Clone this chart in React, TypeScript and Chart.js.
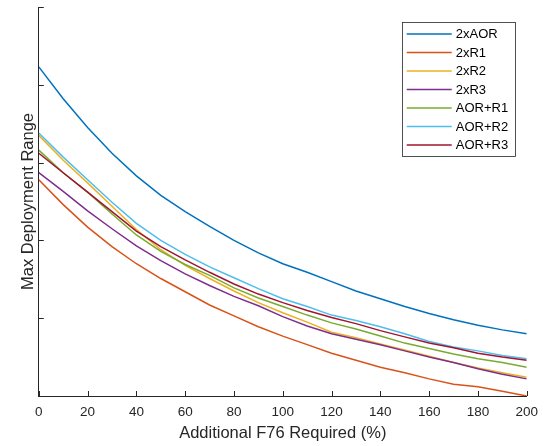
import React, { useEffect, useRef } from "react";
import { Chart, registerables } from "chart.js";

Chart.register(...registerables);

const xValues = [0, 10, 20, 30, 40, 50, 60, 70, 80, 90, 100, 110, 120, 130, 140, 150, 160, 170, 180, 190, 200];
const xTicks = [0, 20, 40, 60, 80, 100, 120, 140, 160, 180, 200];

const s2xAOR = [4.23, 3.82, 3.45, 3.12, 2.83, 2.58, 2.37, 2.18, 2.0, 1.84, 1.7, 1.59, 1.47, 1.35, 1.25, 1.15, 1.06, 0.98, 0.91, 0.85, 0.8];
const s2xR1 = [2.78, 2.46, 2.17, 1.92, 1.7, 1.51, 1.34, 1.17, 1.03, 0.89, 0.77, 0.66, 0.55, 0.46, 0.37, 0.3, 0.22, 0.15, 0.12, 0.06, 0.0];
const s2xR2 = [3.35, 3.03, 2.74, 2.44, 2.14, 1.88, 1.68, 1.51, 1.35, 1.2, 1.07, 0.95, 0.82, 0.75, 0.67, 0.59, 0.51, 0.43, 0.36, 0.3, 0.24];
const s2xR3 = [2.87, 2.63, 2.38, 2.15, 1.93, 1.74, 1.57, 1.42, 1.28, 1.16, 1.02, 0.9, 0.8, 0.73, 0.66, 0.58, 0.5, 0.43, 0.35, 0.28, 0.22];
const sAORR1 = [3.16, 2.87, 2.62, 2.34, 2.07, 1.86, 1.69, 1.55, 1.39, 1.26, 1.15, 1.04, 0.94, 0.86, 0.77, 0.68, 0.61, 0.54, 0.48, 0.43, 0.37];
const sAORR2 = [3.38, 3.07, 2.78, 2.49, 2.22, 2.0, 1.82, 1.66, 1.52, 1.38, 1.25, 1.15, 1.04, 0.97, 0.89, 0.8, 0.7, 0.63, 0.58, 0.52, 0.48];
const sAORR3 = [3.12, 2.87, 2.62, 2.37, 2.12, 1.92, 1.75, 1.59, 1.44, 1.31, 1.2, 1.1, 1.01, 0.93, 0.84, 0.76, 0.68, 0.62, 0.55, 0.5, 0.46];

const seriesLabels = ["2xAOR", "2xR1", "2xR2", "2xR3", "AOR+R1", "AOR+R2", "AOR+R3"];
const seriesValues = [s2xAOR, s2xR1, s2xR2, s2xR3, sAORR1, sAORR2, sAORR3];
const seriesColors = ["#0072BD", "#D95319", "#EDB120", "#7E2F8E", "#77AC30", "#4DBEEE", "#A2142F"];

const AXIS = "#262626";
const FONT = "'Liberation Sans', Arial, Helvetica, sans-serif";

const inwardTicks = {
  id: "inwardTicks",
  afterDatasetsDraw(chart: any) {
    const { ctx, chartArea, scales } = chart;
    ctx.save();
    ctx.strokeStyle = AXIS;
    ctx.lineWidth = 1;
    const len = 5;
    scales.x.ticks.forEach((t: any) => {
      const px = Math.round(scales.x.getPixelForValue(t.value)) + 0.5;
      ctx.beginPath();
      ctx.moveTo(px, chartArea.bottom);
      ctx.lineTo(px, chartArea.bottom - len);
      ctx.stroke();
    });
    scales.y.ticks.forEach((t: any) => {
      const py = Math.round(scales.y.getPixelForValue(t.value)) + 0.5;
      ctx.beginPath();
      ctx.moveTo(chartArea.left, py);
      ctx.lineTo(chartArea.left + len, py);
      ctx.stroke();
    });
    ctx.restore();
  },
};

const boxLegend = {
  id: "boxLegend",
  afterDraw(chart: any) {
    const { ctx, chartArea } = chart;
    const ds = chart.data.datasets;
    const right = chartArea.right - 12;
    const left = right - 112.5;
    const top = chartArea.top + 15;
    const rowH = 18.5;
    const height = 12 + rowH * (ds.length - 1) + 10.5;
    ctx.save();
    ctx.fillStyle = "#ffffff";
    ctx.fillRect(left, top, right - left, height);
    ctx.strokeStyle = "#262626";
    ctx.lineWidth = 0.8;
    ctx.strokeRect(Math.round(left) + 0.5, Math.round(top) + 0.5, Math.round(right - left), Math.round(height));
    ctx.font = `13px ${FONT}`;
    ctx.textBaseline = "middle";
    ctx.textAlign = "left";
    ds.forEach((d: any, i: number) => {
      const y = top + 12 + i * rowH;
      ctx.strokeStyle = d.borderColor;
      ctx.lineWidth = 1.5;
      ctx.beginPath();
      ctx.moveTo(left + 4.5, y);
      ctx.lineTo(left + 49.5, y);
      ctx.stroke();
      ctx.fillStyle = "#000000";
      ctx.fillText(d.label, left + 53.5, y + 0.5);
    });
    ctx.restore();
  },
};

export default function App() {
  const ref = useRef<HTMLCanvasElement | null>(null);
  useEffect(() => {
    if (!ref.current) return;
    const n = seriesLabels.length;
    const chart = new Chart(ref.current, {
      type: "line",
      data: {
        datasets: seriesLabels.map((label, i) => ({
          label,
          data: xValues.map((x, j) => ({ x, y: seriesValues[i][j] })),
          borderColor: seriesColors[i],
          backgroundColor: seriesColors[i],
          borderWidth: 1.5,
          pointRadius: 0,
          tension: 0,
          fill: false,
          order: n - i,
        })),
      },
      options: {
        animation: false,
        responsive: false,
        maintainAspectRatio: false,
        layout: { padding: { left: 15, right: 19, top: 7, bottom: 0 } },
        plugins: { legend: { display: false }, tooltip: { enabled: false } },
        scales: {
          x: {
            type: "linear",
            min: 0,
            max: 200,
            afterBuildTicks: (axis: any) => {
              axis.ticks = xTicks.map((v) => ({ value: v }));
            },
            grid: { display: false, drawTicks: false },
            border: { display: true, color: AXIS, width: 1 },
            ticks: {
              color: AXIS,
              font: { family: FONT, size: 13.5 },
              padding: 8,
              maxRotation: 0,
              autoSkip: false,
            },
            title: {
              display: true,
              text: "Additional F76 Required (%)",
              color: AXIS,
              font: { family: FONT, size: 16.5 },
              padding: { top: -5, bottom: 3 },
            },
          },
          y: {
            type: "linear",
            min: 0,
            max: 5,
            ticks: { display: false, stepSize: 1 },
            grid: { display: false, drawTicks: false },
            border: { display: true, color: AXIS, width: 1 },
            title: {
              display: true,
              text: "Max Deployment Range",
              color: AXIS,
              font: { family: FONT, size: 16.5 },
              padding: { top: 4, bottom: 0 },
            },
          },
        },
      },
      plugins: [inwardTicks, boxLegend],
    });
    return () => chart.destroy();
  }, []);
  return (
    <div style={{ position: "fixed", left: 0, top: 0, width: 546, height: 446, background: "#fff" }}>
      <canvas ref={ref} width={546} height={446} style={{ width: 546, height: 446, display: "block" }} />
    </div>
  );
}
